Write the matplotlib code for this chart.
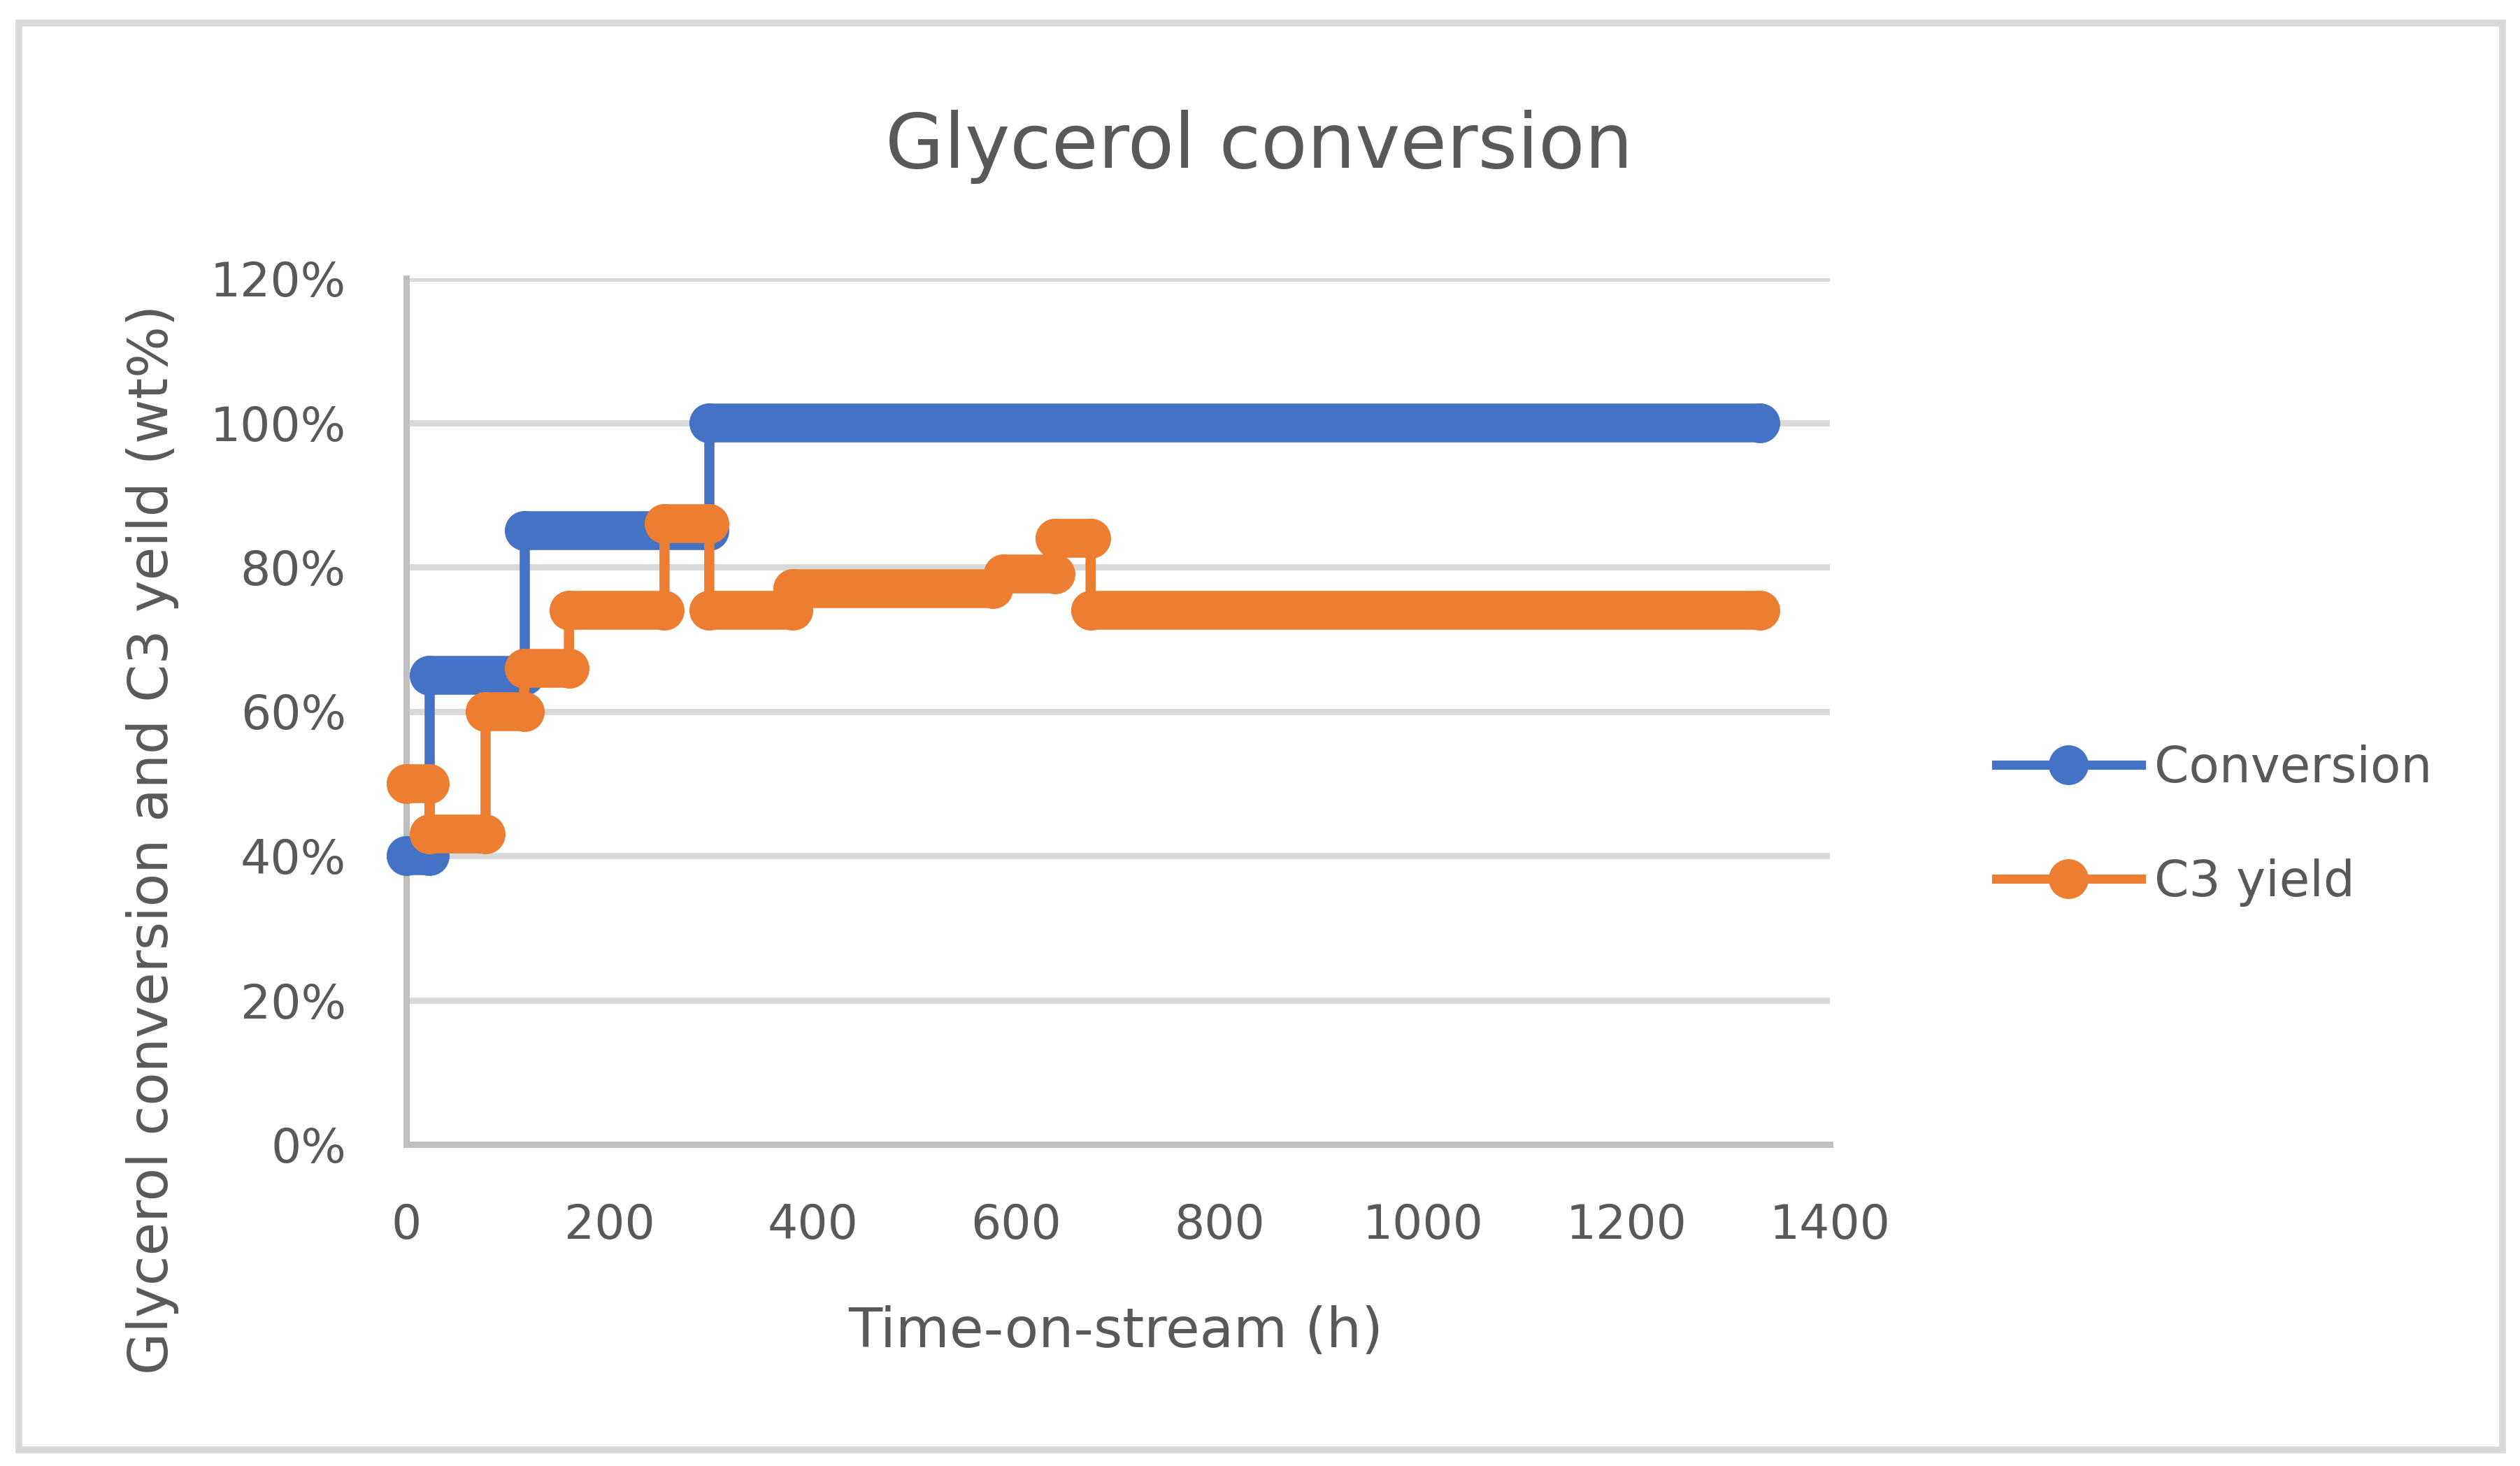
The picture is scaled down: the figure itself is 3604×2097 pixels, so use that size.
import matplotlib
matplotlib.use("Agg")
import matplotlib.pyplot as plt
from matplotlib.lines import Line2D
from matplotlib.patches import Rectangle
from matplotlib.ticker import PercentFormatter

# step data (x = time-on-stream in h, y = fraction)
hours_conv = [0, 23, 23, 116, 116, 298, 298, 1331]
conversion = [0.40, 0.40, 0.65, 0.65, 0.85, 0.85, 1.00, 1.00]

hours_c3 = [0, 23, 23, 78, 78, 116, 116, 160, 160, 254, 254, 298, 298,
            380, 380, 577, 587, 638, 638, 673, 673, 1331]
c3_yield = [0.50, 0.50, 0.43, 0.43, 0.60, 0.60, 0.66, 0.66, 0.74, 0.74,
            0.86, 0.86, 0.74, 0.74, 0.77, 0.77, 0.79, 0.79, 0.84, 0.84,
            0.74, 0.74]

series_names = ["Conversion", "C3 yield"]
x_ticks = [0, 200, 400, 600, 800, 1000, 1200, 1400]
y_ticks = [0, 0.2, 0.4, 0.6, 0.8, 1.0, 1.2]

BLUE = "#4472C4"
ORANGE = "#ED7D31"
TXT = "#595959"

plt.rcParams["font.family"] = ["DejaVu Sans"]

fig = plt.figure(figsize=(36.05, 20.97), dpi=100)
ax = fig.add_axes([581 / 3605, 1 - 1637 / 2097, (2617 - 581) / 3605, (1637 - 398) / 2097])


def draw_series(x, y, color, z):
    # thin connecting line + markers
    ax.plot(x, y, color=color, lw=10.5, marker="o", ms=40, mec=color, mfc=color,
            zorder=z, clip_on=False)
    # consecutive equal points -> markers merge into a rounded bar
    for i in range(len(x) - 1):
        if y[i] == y[i + 1]:
            ax.plot([x[i], x[i + 1]], [y[i], y[i + 1]], color=color, lw=40,
                    solid_capstyle="round", zorder=z, clip_on=False)


draw_series(hours_conv, conversion, BLUE, 3)
draw_series(hours_c3, c3_yield, ORANGE, 4)

ax.set_xlim(0, 1400)
ax.set_ylim(0, 1.2)
ax.set_xticks(x_ticks)
ax.set_yticks(y_ticks)
ax.yaxis.set_major_formatter(PercentFormatter(1.0, decimals=0))
ax.tick_params(length=0, labelsize=49, colors=TXT)
ax.tick_params(axis="y", pad=62)
ax.tick_params(axis="x", pad=60)

ax.grid(axis="y", color="#D9D9D9", lw=6.5)
ax.set_axisbelow(True)
for s in ["top", "right"]:
    ax.spines[s].set_visible(False)
for s in ["left", "bottom"]:
    ax.spines[s].set_color("#BFBFBF")
    ax.spines[s].set_linewidth(6.5)
    ax.spines[s].set_zorder(2.5)

# title and axis titles placed like the Excel layout
fig.text(1801 / 3605, 1 - 240 / 2097, "Glycerol conversion", fontsize=78,
         color=TXT, ha="center", va="baseline")
fig.text(1596 / 3605, 1 - 1927 / 2097, "Time-on-stream (h)", fontsize=57,
         color=TXT, ha="center", va="baseline")
fig.text(218 / 3605, 1 - 1201 / 2097, "Glycerol conversion and C3 yeild (wt%)",
         fontsize=56, color=TXT, ha="center", va="center", rotation=90)

handles = [Line2D([], [], color=BLUE, lw=9.5, marker="o", ms=40),
           Line2D([], [], color=ORANGE, lw=9.5, marker="o", ms=40)]
leg = fig.legend(handles, series_names, loc="center left",
                 bbox_to_anchor=(2855 / 3605, 1 - 1181 / 2097), frameon=False,
                 fontsize=51, handlelength=2.92, handletextpad=0.27,
                 labelspacing=1.33, borderpad=0, borderaxespad=0)
for t in leg.get_texts():
    t.set_color(TXT)

# light frame around the whole chart
fig.patches.append(Rectangle((27 / 3605, 1 - 2074 / 2097), (3579 - 27) / 3605,
                             (2074 - 33) / 2097, transform=fig.transFigure,
                             fill=False, ec="#D9D9D9", lw=7))

fig.savefig("out.png", dpi=100, facecolor="white")
